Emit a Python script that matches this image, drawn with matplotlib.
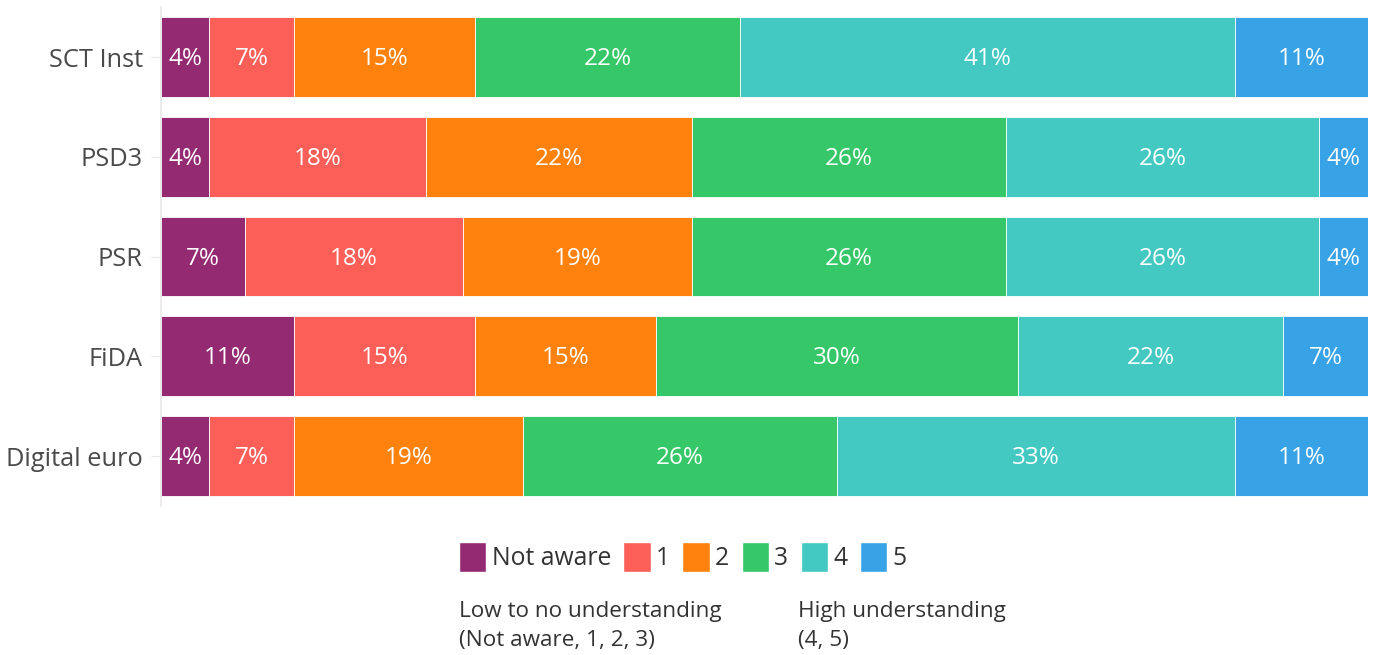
import matplotlib
matplotlib.use("Agg")
import matplotlib.pyplot as plt
import numpy as np
from matplotlib.patches import Patch

plt.rcParams["font.family"] = ["Open Sans", "DejaVu Sans"]

categories = ["SCT Inst", "PSD3", "PSR", "FiDA", "Digital euro"]
levels = ["Not aware", "1", "2", "3", "4", "5"]
colors = ["#932A72", "#FC5F58", "#FF820E", "#35C768", "#43C9C2", "#38A2E7"]

# share of respondents (%) per level, one list per category
not_aware = [4, 4, 7, 11, 4]
level_1 = [7, 18, 18, 15, 7]
level_2 = [15, 22, 19, 15, 19]
level_3 = [22, 26, 26, 30, 26]
level_4 = [41, 26, 26, 22, 33]
level_5 = [11, 4, 4, 7, 11]

series = [not_aware, level_1, level_2, level_3, level_4, level_5]

fig = plt.figure(figsize=(13.76, 6.55), dpi=100)
ax = fig.add_axes([0.117, 0.2275, 0.877, 0.7615])

y = np.arange(len(categories))
left = np.zeros(len(categories))
for vals, col in zip(series, colors):
    vals = np.array(vals, dtype=float)
    ax.barh(y, vals, left=left, height=0.8, color=col,
            edgecolor="white", linewidth=0.6)
    for yi, (l, v) in enumerate(zip(left, vals)):
        ax.text(l + v / 2, yi + 0.02, f"{v:.0f}%", ha="center", va="center",
                color="white", fontsize=17.5)
    left += vals

ax.set_xlim(0, 100)
ax.set_ylim(len(categories) - 0.5, -0.5)
ax.set_yticks(y)
ax.set_yticklabels(categories, fontsize=18.3, color="#4a4a4a")
ax.set_xticks([])
for s in ["top", "right", "bottom"]:
    ax.spines[s].set_visible(False)
ax.spines["left"].set_color("#e8e8e8")
ax.spines["left"].set_linewidth(1.2)
ax.tick_params(axis="y", length=7, color="#e8e8e8", pad=6)

handles = [Patch(facecolor=c, edgecolor="white", label=l)
           for l, c in zip(levels, colors)]
fig.legend(handles=handles, loc="center left", bbox_to_anchor=(459 / 1376, 1 - 557 / 655),
           ncol=6, frameon=False, fontsize=17.8, handlelength=1.1,
           handleheight=1.5, handletextpad=0.22, columnspacing=0.5,
           labelcolor="#333333", borderaxespad=0, borderpad=0)

fig.text(459 / 1376, 1 - 626 / 655, "Low to no understanding\n(Not aware, 1, 2, 3)",
         ha="left", va="center", fontsize=16.2, color="#333333", linespacing=1.45)
fig.text(798 / 1376, 1 - 626 / 655, "High understanding\n(4, 5)",
         ha="left", va="center", fontsize=16.2, color="#333333", linespacing=1.45)

fig.savefig("out.png", dpi=100)
